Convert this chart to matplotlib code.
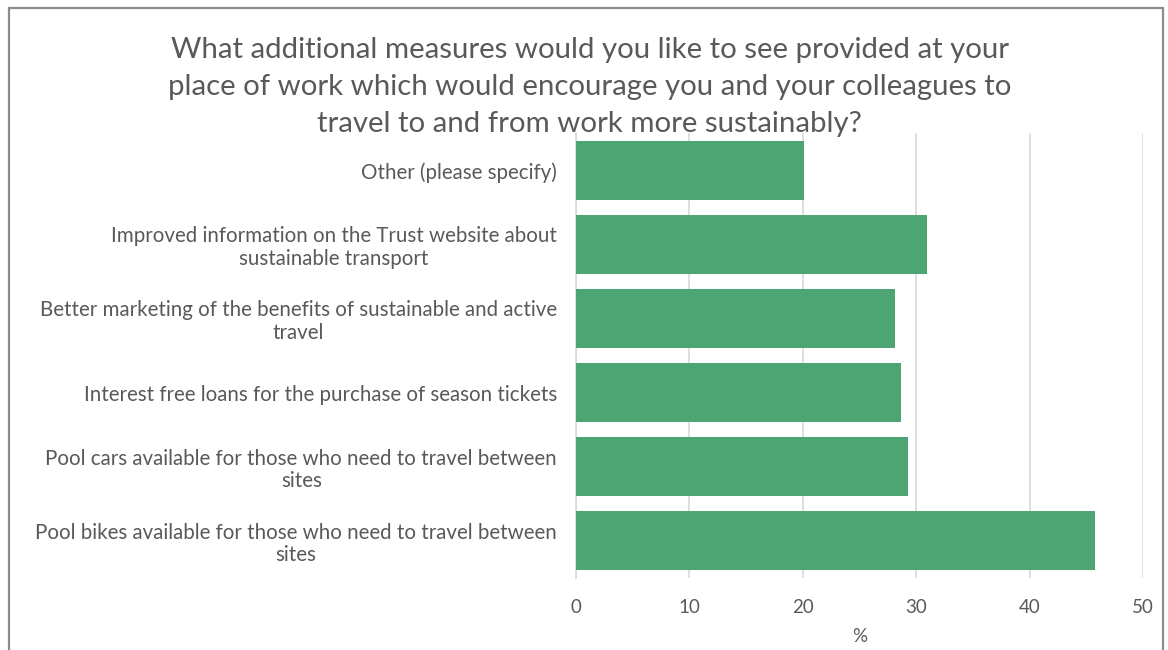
import matplotlib.pyplot as plt
from matplotlib.patches import Rectangle

categories = [
    "Pool bikes available for those who need to travel between\nsites",
    "Pool cars available for those who need to travel between\nsites",
    "Interest free loans for the purchase of season tickets",
    "Better marketing of the benefits of sustainable and active\ntravel",
    "Improved information on the Trust website about\nsustainable transport",
    "Other (please specify)",
]
percent = [45.8, 29.3, 28.7, 28.1, 31.0, 20.1]
x_ticks = [0, 10, 20, 30, 40, 50]

title = ("What additional measures would you like to see provided at your\n"
         "place of work which would encourage you and your colleagues to\n"
         "travel to and from work more sustainably?")

plt.rcParams['font.family'] = ['Lato', 'DejaVu Sans']
text_grey = '#595959'

fig = plt.figure(figsize=(11.68, 6.5), dpi=100)
ax = fig.add_axes([0.493, 0.111, 0.4856, 0.684])

ax.barh(range(len(categories)), percent, height=0.8, color='#4EA574', zorder=3)

ax.set_xlim(0, 50)
ax.set_ylim(-0.5, len(categories) - 0.5)
ax.set_xticks(x_ticks)
ax.set_yticks(range(len(categories)))
ax.set_yticklabels(categories, fontsize=14.8, color=text_grey, linespacing=1.15)
for lbl in ax.get_yticklabels():
    lbl.set_multialignment('center')
ax.tick_params(axis='x', labelsize=13.5, colors=text_grey, length=0, pad=15)
ax.tick_params(axis='y', length=0, pad=13.5)
ax.grid(axis='x', color='#d9d9d9', linewidth=1.2, zorder=0)
for side in ['top', 'right', 'bottom']:
    ax.spines[side].set_visible(False)
ax.spines['left'].set_color('#d9d9d9')
ax.spines['left'].set_linewidth(1.2)

ax.set_xlabel('%', fontsize=13.5, color=text_grey, labelpad=9)

fig.text(0.505, 0.866, title, ha='center', va='center', fontsize=21.2,
         color=text_grey, linespacing=1.52)

# outer chart frame
fig.patches.append(Rectangle((0.008, -0.05), 0.988, 1.038, transform=fig.transFigure,
                             fill=False, edgecolor='#8c8c8c', linewidth=1.6))

fig.savefig('out.png', dpi=100)
